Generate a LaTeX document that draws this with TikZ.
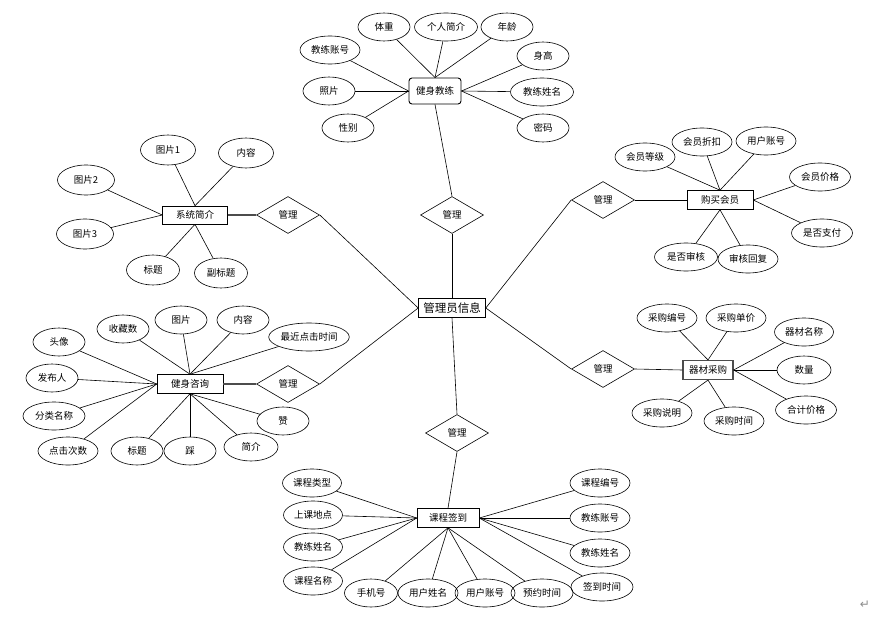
\documentclass[tikz,border=0pt]{standalone}
\usepackage{fontspec}
\setmainfont{Noto Sans CJK SC}
\newfontfamily\symfont{DejaVu Sans}
\usetikzlibrary{shapes.geometric}

\tikzset{
  attr/.style={draw, ellipse, minimum width=52pt, minimum height=28pt, inner xsep=0pt, inner ysep=0pt, font=\fontsize{9.5}{11}\selectfont},
  ent/.style={draw, rectangle, minimum height=19pt, inner sep=1.5pt, font=\fontsize{9.5}{11}\selectfont},
  rel/.style={draw, diamond, aspect=1.7, minimum width=63pt, minimum height=37pt, inner sep=0pt, font=\fontsize{9.5}{11}\selectfont}
}

\begin{document}
\begin{tikzpicture}[x=1pt,y=-1pt, line width=0.6pt]
				\useasboundingbox (0,0) rectangle (872,626);
				
				% centre
				\node[ent, minimum width=67pt, font=\fontsize{11.5}{13}\selectfont] (admin) at (452,308) {管理员信息};
				\node[rel] (gl1) at (452,215) {管理};
				\node[rel] (gl2) at (457,433) {管理};
				\node[rel] (gl3) at (288,215) {管理};
				\node[rel] (gl4) at (288,384) {管理};
				\node[rel] (gl5) at (603,200) {管理};
				\node[rel] (gl6) at (603,369) {管理};
				\draw (admin.north) -- (gl1.south);
				\draw (admin.south) -- (gl2.north);
				\draw (admin.west) -- (gl3.east);
				\draw (admin.west) -- (gl4.east);
				\draw (admin.east) -- (gl5.west);
				\draw (admin.east) -- (gl6.west);
				
				% 健身教练
				\node[ent, rounded corners=3pt, line width=0.9pt, minimum width=52pt, minimum height=26pt] (coach) at (435,91) {健身教练};
				\draw (gl1.north) -- (coach.south);
				\node[attr] (c1) at (384,27) {体重};
				\node[attr, minimum width=63pt] (c2) at (446,27) {个人简介};
				\node[attr] (c3) at (507,27) {年龄};
				\node[attr, minimum width=60pt] (c4) at (330,50) {教练账号};
				\node[attr] (c5) at (543,56) {身高};
				\node[attr] (c6) at (329,91) {照片};
				\node[attr, minimum width=63pt] (c7) at (542,92) {教练姓名};
				\node[attr] (c8) at (348,128) {性别};
				\node[attr] (c9) at (543,128) {密码};
				\foreach \a in {c1,c2,c3} \draw (coach.north) -- (\a);
				\foreach \a in {c4,c6,c8} \draw (coach.west) -- (\a);
				\foreach \a in {c5,c7,c9} \draw (coach.east) -- (\a);
				
				% 系统简介
				\node[ent, minimum width=65pt, minimum height=18pt] (intro) at (195,215) {系统简介};
				\draw[line width=1.2pt, black!70] (intro.east) -- (gl3.west);
				\node[attr, minimum width=55pt, minimum height=30pt] (s1) at (168,150) {图片1};
				\node[attr, minimum width=55pt, minimum height=30pt] (s2) at (246,153) {内容};
				\node[attr, minimum width=57pt, minimum height=30pt] (s3) at (86,180) {图片2};
				\node[attr, minimum width=57pt, minimum height=30pt] (s4) at (85,234) {图片3};
				\node[attr, minimum width=53pt, minimum height=30pt] (s5) at (153,270) {标题};
				\node[attr, minimum width=53pt, minimum height=30pt] (s6) at (221,273) {副标题};
				\foreach \a in {s1,s2} \draw (intro.north) -- (\a);
				\foreach \a in {s3,s4} \draw (intro.west) -- (\a);
				\foreach \a in {s5,s6} \draw (intro.south) -- (\a);
				
				% 健身咨询
				\node[ent, minimum width=66pt] (news) at (190,384) {健身咨询};
				\draw[line width=1.2pt, black!70] (news.east) -- (gl4.west);
				\node[attr] (n1) at (59,342) {头像};
				\node[attr] (n2) at (123,329) {收藏数};
				\node[attr] (n3) at (181,320) {图片};
				\node[attr] (n4) at (243,320) {内容};
				\node[attr, minimum width=80pt] (n5) at (309,337) {最近点击时间};
				\node[attr] (n6) at (52,378) {发布人};
				\node[attr, minimum width=62pt] (n7) at (54,416) {分类名称};
				\node[attr, minimum width=60pt] (n8) at (68,451) {点击次数};
				\node[attr] (n9) at (137,451) {标题};
				\node[attr] (n10) at (190,451) {踩};
				\node[attr, minimum width=54pt] (n11) at (251,447) {简介};
				\node[attr] (n12) at (283,421) {赞};
				\foreach \a in {n2,n3,n4,n5} \draw (news.north) -- (\a);
				\foreach \a in {n1,n6,n7,n8} \draw (news.west) -- (\a);
				\foreach \a in {n9,n10,n11,n12} \draw (news.south) -- (\a);
				
				% 购买会员
				\node[ent, minimum width=66pt] (vip) at (720,200) {购买会员};
				\draw (gl5.east) -- (vip.west);
				\node[attr, minimum width=60pt] (v1) at (645,157) {会员等级};
				\node[attr, minimum width=60pt] (v2) at (702,142) {会员折扣};
				\node[attr, minimum width=60pt] (v3) at (766,141) {用户账号};
				\node[attr, minimum width=61pt] (v4) at (820,177) {会员价格};
				\node[attr, minimum width=61pt] (v5) at (822,233) {是否支付};
				\node[attr, minimum width=63pt] (v6) at (686,257) {是否审核};
				\node[attr, minimum width=60pt] (v7) at (748,259) {审核回复};
				\foreach \a in {v1,v2,v3} \draw (vip.north) -- (\a);
				\foreach \a in {v4,v5} \draw (vip.east) -- (\a);
				\foreach \a in {v6,v7} \draw (vip.south) -- (\a);
				
				% 器材采购
				\node[ent, minimum width=50pt, line width=1.2pt, draw=black!70] (buy) at (708,370) {器材采购};
				\draw (gl6.east) -- (buy.west);
				\node[attr, minimum width=60pt] (b1) at (667,318) {采购编号};
				\node[attr, minimum width=60pt] (b2) at (736,318) {采购单价};
				\node[attr, minimum width=59pt] (b3) at (804,332) {器材名称};
				\node[attr, minimum width=54pt] (b4) at (804,370) {数量};
				\node[attr, minimum width=61pt] (b5) at (806,410) {合计价格};
				\node[attr, minimum width=60pt] (b6) at (662,413) {采购说明};
				\node[attr, minimum width=60pt] (b7) at (734,421) {采购时间};
				\foreach \a in {b1,b2} \draw (buy.north) -- (\a);
				\foreach \a in {b3,b4,b5} \draw (buy.east) -- (\a);
				\foreach \a in {b6,b7} \draw (buy.south) -- (\a);
				
				% 课程签到
				\node[ent, minimum width=62pt] (sign) at (448,518) {课程签到};
				\draw (gl2.south) -- (sign.north);
				\node[attr, minimum width=59pt] (k1) at (312,483) {课程类型};
				\node[attr, minimum width=59pt] (k2) at (313,515) {上课地点};
				\node[attr, minimum width=59pt] (k3) at (313,547) {教练姓名};
				\node[attr, minimum width=59pt] (k4) at (313,581) {课程名称};
				\node[attr, minimum width=53pt] (k5) at (371,593) {手机号};
				\node[attr, minimum width=60pt] (k6) at (428,593) {用户姓名};
				\node[attr, minimum width=60pt] (k7) at (485,593) {用户账号};
				\node[attr, minimum width=62pt] (k8) at (542,593) {预约时间};
				\node[attr, minimum width=60pt] (k9) at (600,483) {课程编号};
				\node[attr, minimum width=60pt] (k10) at (600,518) {教练账号};
				\node[attr, minimum width=60pt] (k11) at (600,553) {教练姓名};
				\node[attr, minimum width=62pt] (k12) at (602,587) {签到时间};
				\foreach \a in {k1,k2,k3,k4} \draw (sign.west) -- (\a);
				\foreach \a in {k5,k6,k7,k8} \draw (sign.south) -- (\a);
				\foreach \a in {k9,k10,k11,k12} \draw (sign.east) -- (\a);
				
				\node[text=black!45, font=\symfont\fontsize{12}{12}\selectfont] (ret) at (865,605) {↵};
			\end{tikzpicture}
\end{document}
